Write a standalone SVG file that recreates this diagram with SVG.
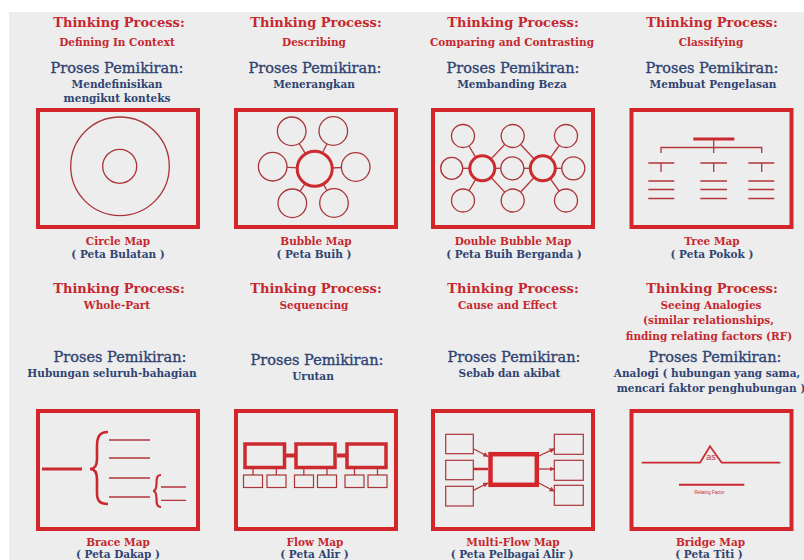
<svg xmlns="http://www.w3.org/2000/svg" width="804" height="560" viewBox="0 0 804 560">
<style>
text{font-family:"DejaVu Serif","Liberation Serif",serif;text-anchor:middle}
.tt{font-weight:bold;font-size:13px;fill:#c5282e}
.ts{font-weight:bold;font-size:10.5px;fill:#c5282e}
.pp{font-size:14.5px;fill:#2f4472;stroke:#2f4472;stroke-width:0.35}
.pb{font-weight:bold;font-size:10.5px;fill:#2f4472}
.lr{font-weight:bold;font-size:10.5px;fill:#c5282e}
.lb{font-weight:bold;font-size:10.5px;fill:#2f4472}
.frame{fill:none;stroke:#d3262b;stroke-width:4}
.thin{fill:#ededed;stroke:#a93538;stroke-width:1.3}
.thick{fill:#ededed;stroke:#cc2a2e;stroke-width:3}
.ln{stroke:#b3363a;stroke-width:1.3;fill:none}
.lnb{stroke:#c9292e;stroke-width:3;fill:none}
</style>
<defs>
<marker id="ah" viewBox="0 0 6 6" refX="5.5" refY="3" markerWidth="4" markerHeight="4" orient="auto"><path d="M0,0 L6,3 L0,6 z" fill="#b3363a"/></marker>
</defs>
<rect width="804" height="560" fill="#ffffff"/>
<rect x="9" y="12" width="795" height="548" fill="#ededed"/>

<g id="connectors">
<g class="ln">
<line x1="314.7" y1="168.7" x2="291.7" y2="131.3"/>
<line x1="314.7" y1="168.7" x2="333.3" y2="131"/>
<line x1="314.7" y1="168.7" x2="272.7" y2="166.7"/>
<line x1="314.7" y1="168.7" x2="355.7" y2="167"/>
<line x1="314.7" y1="168.7" x2="292.3" y2="203.3"/>
<line x1="314.7" y1="168.7" x2="334" y2="203"/>
<line x1="482.3" y1="168.3" x2="463" y2="136"/>
<line x1="482.3" y1="168.3" x2="451.7" y2="168.3"/>
<line x1="482.3" y1="168.3" x2="463" y2="200.5"/>
<line x1="482.3" y1="168.3" x2="512.7" y2="136"/>
<line x1="482.3" y1="168.3" x2="512.3" y2="168.3"/>
<line x1="482.3" y1="168.3" x2="512.7" y2="200.5"/>
<line x1="542.8" y1="168.3" x2="512.7" y2="136"/>
<line x1="542.8" y1="168.3" x2="512.3" y2="168.3"/>
<line x1="542.8" y1="168.3" x2="512.7" y2="200.5"/>
<line x1="542.8" y1="168.3" x2="566" y2="136"/>
<line x1="542.8" y1="168.3" x2="573.3" y2="168.3"/>
<line x1="542.8" y1="168.3" x2="566" y2="200.5"/>
<path d="M713.7,139 V153 M661,153 V147.5 H761.7 V153"/>
<path d="M661,163 V172 M713.7,163 V172 M761.7,163 V172"/>
<path d="M253,469 V475 M276.3,469 V475 M303.8,469 V475 M327,469 V475 M354.5,469 V475 M377.5,469 V475"/>
<line x1="473.3" y1="448.7" x2="488" y2="456.5" marker-end="url(#ah)"/>
<line x1="473.3" y1="490.3" x2="488" y2="483" marker-end="url(#ah)"/>
<line x1="539" y1="456" x2="554.3" y2="448.7" marker-end="url(#ah)"/>
<line x1="539" y1="469" x2="554.3" y2="469" marker-end="url(#ah)"/>
<line x1="539" y1="483" x2="554.3" y2="491.3" marker-end="url(#ah)"/>
</g>
<line x1="473.3" y1="469" x2="488" y2="469" stroke="#c9292e" stroke-width="2.5"/>
<line x1="286" y1="455.5" x2="295" y2="455.5" stroke="#cc2a2e" stroke-width="4"/>
<line x1="337" y1="455.5" x2="346" y2="455.5" stroke="#cc2a2e" stroke-width="4"/>
</g>

<g id="circle-map">
<text class="tt" x="119" y="27">Thinking Process:</text>
<text class="ts" x="117" y="46">Defining In Context</text>
<text class="pp" x="117" y="73">Proses Pemikiran:</text>
<text class="pb" x="117" y="88">Mendefinisikan</text>
<text class="pb" x="117" y="102">mengikut konteks</text>
<rect class="frame" x="38" y="110" width="160" height="117"/>
<circle class="thin" cx="120" cy="166.3" r="49.3"/>
<circle class="thin" cx="119.7" cy="166.3" r="17"/>
<text class="lr" x="118" y="245">Circle Map</text>
<text class="lb" x="118" y="258">( Peta Bulatan )</text>
</g>

<g id="bubble-map">
<text class="tt" x="316" y="27">Thinking Process:</text>
<text class="ts" x="314" y="46">Describing</text>
<text class="pp" x="315" y="73">Proses Pemikiran:</text>
<text class="pb" x="314" y="88">Menerangkan</text>
<rect class="frame" x="236" y="110" width="160" height="117"/>
<circle class="thin" cx="291.7" cy="131.3" r="14.3"/>
<circle class="thin" cx="333.3" cy="131" r="14.3"/>
<circle class="thin" cx="272.7" cy="166.7" r="14.3"/>
<circle class="thin" cx="355.7" cy="167" r="14.3"/>
<circle class="thin" cx="292.3" cy="203.3" r="14.3"/>
<circle class="thin" cx="334" cy="203" r="14.3"/>
<circle class="thick" cx="314.7" cy="168.7" r="17.5"/>
<text class="lr" x="316" y="245">Bubble Map</text>
<text class="lb" x="314" y="258">( Peta Buih )</text>
</g>

<g id="double-bubble-map">
<text class="tt" x="513" y="27">Thinking Process:</text>
<text class="ts" x="512" y="46">Comparing and Contrasting</text>
<text class="pp" x="513" y="73">Proses Pemikiran:</text>
<text class="pb" x="512" y="88">Membanding Beza</text>
<rect class="frame" x="433" y="110" width="160" height="117"/>
<circle class="thin" cx="463" cy="136" r="11.5"/>
<circle class="thin" cx="512.7" cy="136" r="11.5"/>
<circle class="thin" cx="566" cy="136" r="11.5"/>
<circle class="thin" cx="451.7" cy="168.3" r="11"/>
<circle class="thin" cx="512.3" cy="168.3" r="11.5"/>
<circle class="thin" cx="573.3" cy="168.3" r="11.5"/>
<circle class="thin" cx="463" cy="200.5" r="11.5"/>
<circle class="thin" cx="512.7" cy="200.5" r="11.5"/>
<circle class="thin" cx="566" cy="200.5" r="11.5"/>
<circle class="thick" cx="482.3" cy="168.3" r="12.5"/>
<circle class="thick" cx="542.8" cy="168.3" r="12.5"/>
<text class="lr" x="513" y="245">Double Bubble Map</text>
<text class="lb" x="514" y="258">( Peta Buih Berganda )</text>
</g>

<g id="tree-map">
<text class="tt" x="712" y="27">Thinking Process:</text>
<text class="ts" x="711" y="46">Classifying</text>
<text class="pp" x="712" y="73">Proses Pemikiran:</text>
<text class="pb" x="713" y="88">Membuat Pengelasan</text>
<rect class="frame" x="631.5" y="110" width="160" height="117"/>
<line class="lnb" x1="693.3" y1="139" x2="734.3" y2="139"/>
<g class="ln">
<path d="M648.3,163 H674.3 M700.3,163 H727 M748.3,163 H774.3"/>
<path d="M648.3,181 H674.3 M700.3,181 H727 M748.3,181 H774.3"/>
<path d="M648.3,189.5 H674.3 M700.3,189.5 H727 M748.3,189.5 H774.3"/>
<path d="M648.3,198.5 H674.3 M700.3,198.5 H727 M748.3,198.5 H774.3"/>
</g>
<text class="lr" x="712" y="245">Tree Map</text>
<text class="lb" x="712" y="258">( Peta Pokok )</text>
</g>

<g id="brace-map">
<text class="tt" x="119" y="293">Thinking Process:</text>
<text class="ts" x="117" y="309">Whole-Part</text>
<text class="pp" x="120" y="362">Proses Pemikiran:</text>
<text class="pb" x="112" y="377">Hubungan seluruh-bahagian</text>
<rect class="frame" x="38" y="411" width="160" height="118"/>
<line class="lnb" x1="42" y1="469" x2="82" y2="469"/>
<path d="M108,432 C99,432 97,437 97,447 L97,459 C97,466 94,469 90,469 C94,469 97,472 97,479 L97,493 C97,500 99,504 108,504" fill="none" stroke="#c9292e" stroke-width="2.6"/>
<path d="M161,475 C157,475 156.5,478 156.5,483 C156.5,488 155.5,491 153,491 C155.5,491 156.5,494 156.5,499 C156.5,504 157,507 161,507" fill="none" stroke="#c9292e" stroke-width="2.2"/>
<g class="ln">
<path d="M109,440 H150 M109,458 H150 M109,478 H150 M109,497 H150"/>
<path d="M161,487 H186 M161,500.3 H186"/>
</g>
<text class="lr" x="118" y="546">Brace Map</text>
<text class="lb" x="118" y="558">( Peta Dakap )</text>
</g>

<g id="flow-map">
<text class="tt" x="316" y="293">Thinking Process:</text>
<text class="ts" x="314" y="309">Sequencing</text>
<text class="pp" x="317" y="365">Proses Pemikiran:</text>
<text class="pb" x="313" y="380">Urutan</text>
<rect class="frame" x="236" y="411" width="160" height="118"/>
<g fill="none" stroke="#cc2a2e" stroke-width="3.5">
<rect x="245" y="444" width="39.5" height="23.5"/>
<rect x="296" y="444" width="39" height="23.5"/>
<rect x="347" y="444" width="39" height="23.5"/>
</g>
<g fill="none" stroke="#a93538" stroke-width="1.2">
<rect x="243.5" y="475" width="19" height="12.5"/>
<rect x="267" y="475" width="19" height="12.5"/>
<rect x="294.5" y="475" width="19" height="12.5"/>
<rect x="317.5" y="475" width="19" height="12.5"/>
<rect x="345" y="475" width="19" height="12.5"/>
<rect x="368" y="475" width="19" height="12.5"/>
</g>
<text class="lr" x="315" y="546">Flow Map</text>
<text class="lb" x="314.5" y="558">( Peta Alir )</text>
</g>

<g id="multi-flow-map">
<text class="tt" x="513" y="293">Thinking Process:</text>
<text class="ts" x="507.5" y="309">Cause and Effect</text>
<text class="pp" x="514" y="362">Proses Pemikiran:</text>
<text class="pb" x="509.5" y="377">Sebab dan akibat</text>
<rect class="frame" x="433" y="411" width="160" height="118"/>
<rect x="490.5" y="454.2" width="46.3" height="30.6" fill="none" stroke="#d3262b" stroke-width="4.5"/>
<g fill="none" stroke="#a93538" stroke-width="1.2">
<rect x="445.7" y="434.3" width="27.6" height="19.4"/>
<rect x="445.7" y="460.3" width="27.6" height="19.4"/>
<rect x="445.7" y="486.3" width="27.6" height="19.7"/>
<rect x="554.3" y="434.3" width="29" height="20"/>
<rect x="554.3" y="460.3" width="29" height="20"/>
<rect x="554.3" y="485.3" width="29" height="20"/>
</g>
<text class="lr" x="513" y="546">Multi-Flow Map</text>
<text class="lb" x="512" y="558">( Peta Pelbagai Alir )</text>
</g>

<g id="bridge-map">
<text class="tt" x="712" y="293">Thinking Process:</text>
<text class="ts" x="711" y="309">Seeing Analogies</text>
<text class="ts" x="708.5" y="324">(similar relationships,</text>
<text class="ts" x="709" y="340">finding relating factors (RF)</text>
<text class="pp" x="715" y="362">Proses Pemikiran:</text>
<text class="pb" x="707" y="377">Analogi ( hubungan yang sama,</text>
<text class="pb" x="711" y="392">mencari faktor penghubungan )</text>
<rect class="frame" x="631.5" y="411" width="160" height="118"/>
<polyline points="641.7,462.7 700,462.7 710,446.3 721.7,462.7 780.3,462.7" fill="none" stroke="#c9292e" stroke-width="1.8"/>
<text x="711" y="460" style="font-family:'Liberation Sans',Arial,sans-serif;font-size:9px;fill:#c9292e">as</text>
<line x1="679" y1="484.7" x2="744.3" y2="484.7" stroke="#c9292e" stroke-width="2"/>
<text x="709.5" y="494" textLength="30" lengthAdjust="spacingAndGlyphs" style="font-family:'Liberation Sans',Arial,sans-serif;font-size:6px;fill:#c9292e">Relating Factor</text>
<text class="lr" x="710.5" y="546">Bridge Map</text>
<text class="lb" x="709" y="558">( Peta Titi )</text>
</g>
</svg>
